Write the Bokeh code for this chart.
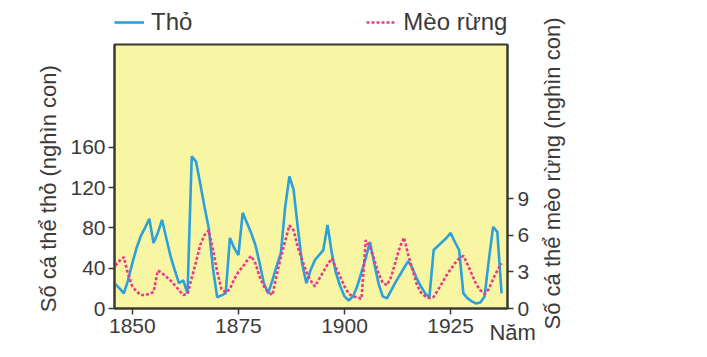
from bokeh.plotting import figure
from bokeh.models import (Range1d, LinearAxis, FixedTicker, Legend, LegendItem)
from bokeh.layouts import row, column
from bokeh.embed import file_html
from bokeh.resources import INLINE

years = list(range(1846, 1938))

# Hare (thousands)
hare = [
    24, 20, 15, 28, 45, 60, 72, 80, 89, 65,        # 1846-1855
    75, 88, 70, 52, 38, 25, 28, 15, 151, 146,      # 1856-1865
    124, 101, 80, 40, 11, 13, 15, 70, 60, 53,      # 1866-1875
    95, 85, 75, 63, 45, 25, 15, 28, 42, 55,        # 1876-1885
    100, 131, 118, 80, 45, 25, 38, 48, 53, 58,     # 1886-1895
    83, 55, 35, 22, 12, 8, 12, 22, 36, 50,         # 1896-1905
    66, 45, 25, 12, 10, 18, 26, 33, 40, 47,        # 1906-1915
    40, 30, 22, 15, 11, 58, 62, 66, 70, 75,        # 1916-1925
    66, 58, 15, 10, 7, 5, 6, 12, 48, 81,           # 1926-1935
    76, 15,                                        # 1936-1937
]

# Lynx (thousands)
lynx = [
    3.5, 3.9, 4.2, 2.8, 1.8, 1.4, 1.1, 1.1, 1.2, 1.35,   # 1846-1855
    3.1, 2.9, 2.6, 2.3, 1.9, 1.5, 1.1, 1.2, 2.5, 3.8,    # 1856-1865
    5.2, 6.0, 6.4, 4.8, 3.0, 1.6, 1.3, 1.6, 2.4, 3.0,    # 1866-1875
    3.4, 3.9, 4.3, 3.7, 2.6, 1.8, 1.35, 1.1, 2.7, 4.2,   # 1876-1885
    5.5, 6.8, 6.4, 5.0, 4.0, 3.0, 2.3, 1.8, 2.4, 3.0,    # 1886-1895
    3.6, 4.1, 3.3, 2.6, 1.8, 1.2, 1.0, 0.9, 0.8, 5.6,    # 1896-1905
    5.0, 4.0, 2.9, 2.1, 1.9, 2.6, 3.8, 5.0, 5.8, 4.4,    # 1906-1915
    3.2, 2.0, 1.3, 1.0, 0.85, 0.95, 1.5, 2.1, 2.7, 3.2,  # 1916-1925
    3.7, 4.1, 4.3, 3.6, 2.8, 2.0, 1.5, 1.2, 1.6, 2.4,    # 1926-1935
    3.1, 3.7,                                            # 1936-1937
]

x_ticks = [1850, 1875, 1900, 1925]
hare_ticks = [0, 40, 80, 120, 160]
lynx_ticks = [0, 3, 6, 9]

series_names = ["Thỏ", "Mèo rừng"]
hare_title = "Số cá thể thỏ (nghìn con)"
lynx_title = "Số cá thể mèo rừng (nghìn con)"
x_title = "Năm"

FONT = "Liberation Sans"
TXT = "#3a3a3a"
DARK = "#3b3a30"
BLUE = "#2ba0dc"
PINK = "#e83a8c"
NB = "\u00a0"
LW = 2.6
DASH = "3 2"

# ---------------- legend strip (top) ----------------
leg = figure(width=535, height=40, output_backend="svg", toolbar_location=None,
             x_range=Range1d(1845.8, 1938.4), y_range=Range1d(0, 262),
             x_axis_location=None, y_axis_location=None,
             min_border_left=0, min_border_right=0, min_border_top=0,
             min_border_bottom=0)
leg.outline_line_color = None
leg.background_fill_color = "white"
leg.xgrid.visible = False
leg.ygrid.visible = False
# single-point proxies (draw nothing) that carry the legend styles
lr1 = leg.line(x=years[:1], y=hare[:1], line_color=BLUE, line_width=LW)
lr2 = leg.line(x=years[:1], y=hare[:1], line_color=PINK, line_width=LW,
               line_dash=DASH)
legend = Legend(items=[LegendItem(label=series_names[0], renderers=[lr1]),
                       LegendItem(label=series_names[1], renderers=[lr2])],
                orientation="horizontal", location=(0, 4),
                spacing=174, padding=0, margin=0,
                glyph_width=30, glyph_height=20, label_standoff=7,
                label_height=24,
                label_text_font=FONT, label_text_font_size="24px",
                label_text_color=TXT,
                border_line_color=None, background_fill_alpha=0)
leg.add_layout(legend)

# ---------------- main chart ----------------
p = figure(width=535, height=317, output_backend="svg", toolbar_location=None,
           x_range=Range1d(1845.8, 1938.4), y_range=Range1d(0, 262),
           min_border_left=114, min_border_right=28, min_border_top=4,
           min_border_bottom=49)
p.extra_y_ranges = {"lynx": Range1d(0, 21.6)}

p.background_fill_color = "#f9f6a3"
p.border_fill_color = "white"
p.outline_line_color = DARK
p.outline_line_width = 2
p.xgrid.visible = False
p.ygrid.visible = False

p.line(years, hare, line_color=BLUE, line_width=LW)
p.line(years, lynx, y_range_name="lynx", line_color=PINK, line_width=LW,
       line_dash=DASH)

def style(ax):
    ax.axis_line_color = DARK
    ax.axis_line_width = 2
    ax.major_tick_line_color = DARK
    ax.major_tick_line_width = 1.5
    ax.major_tick_out = 6
    ax.major_tick_in = 0
    ax.minor_tick_line_color = None
    ax.major_label_text_font = FONT
    ax.major_label_text_font_size = "21px"
    ax.major_label_text_color = TXT
    ax.axis_label_text_font = FONT
    ax.axis_label_text_font_size = "22px"
    ax.axis_label_text_font_style = "normal"
    ax.axis_label_text_color = TXT

xa = p.xaxis[0]
xa.ticker = FixedTicker(ticks=x_ticks)
style(xa)
xa.major_label_standoff = 4
xa.axis_label = NB * 66 + x_title
xa.axis_label_standoff = -16

ya = p.yaxis[0]
ya.ticker = FixedTicker(ticks=hare_ticks)
style(ya)
ya.axis_label = hare_title + NB * 4
ya.axis_label_standoff = 6
ya.major_label_standoff = 3

ra = LinearAxis(y_range_name="lynx", ticker=FixedTicker(ticks=lynx_ticks))
style(ra)
ra.major_label_standoff = 4
p.add_layout(ra, "right")

# ---------------- right title strip ----------------
rt = figure(width=172, height=357, output_backend="svg", toolbar_location=None,
            x_range=Range1d(0, 1), y_range=Range1d(0, 1),
            x_axis_location=None, y_axis_location="left",
            min_border_left=29, min_border_right=0, min_border_top=0,
            min_border_bottom=11)
rt.outline_line_color = None
rt.xgrid.visible = False
rt.ygrid.visible = False
rax = rt.yaxis[0]
rax.ticker = FixedTicker(ticks=[])
rax.axis_line_color = None
rax.major_tick_line_color = None
rax.minor_tick_line_color = None
rax.major_tick_out = 0
rax.major_label_standoff = 0
rax.axis_label = lynx_title
rax.axis_label_standoff = 0
rax.axis_label_text_font = FONT
rax.axis_label_text_font_size = "22px"
rax.axis_label_text_font_style = "normal"
rax.axis_label_text_color = TXT

layout = row(column(leg, p), rt)
open("out.html", "w").write(file_html(layout, INLINE))
